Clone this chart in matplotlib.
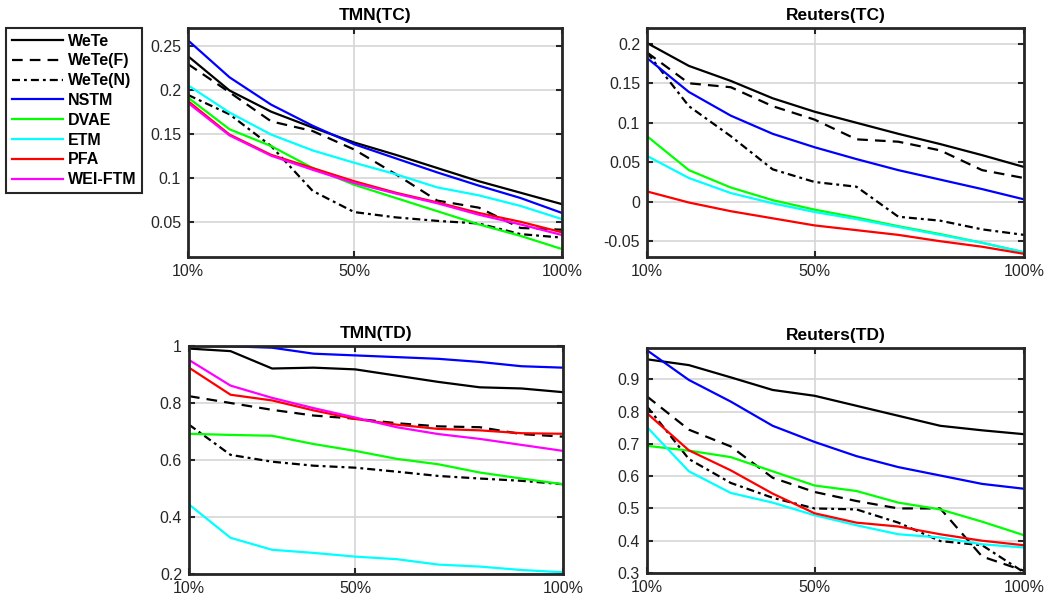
import numpy as np
import matplotlib.pyplot as plt

plt.rcParams['font.family'] = ['Liberation Sans', 'DejaVu Sans']

# data proportion (%)
x = [10, 20, 30, 40, 50, 60, 70, 80, 90, 100]

methods = ['WeTe', 'WeTe(F)', 'WeTe(N)', 'NSTM', 'DVAE', 'ETM', 'PFA', 'WEI-FTM']
colors = ['k', 'k', 'k', '#0000ff', '#00ff00', '#00ffff', '#ff0000', '#ff00ff']
styles = ['-', (0, (4.8, 3.2)), (0, (3.6, 1.8, 1.3, 1.8)), '-', '-', '-', '-', '-']

tmn_tc = {
    'WeTe':    [0.238, 0.199, 0.175, 0.157, 0.140, 0.126, 0.111, 0.096, 0.083, 0.070],
    'WeTe(F)': [0.229, 0.197, 0.164, 0.153, 0.132, 0.104, 0.074, 0.066, 0.043, 0.041],
    'WeTe(N)': [0.194, 0.172, 0.136, 0.085, 0.061, 0.055, 0.051, 0.048, 0.036, 0.032],
    'NSTM':    [0.256, 0.214, 0.183, 0.159, 0.138, 0.122, 0.106, 0.091, 0.077, 0.060],
    'DVAE':    [0.191, 0.155, 0.136, 0.111, 0.092, 0.077, 0.062, 0.047, 0.034, 0.019],
    'ETM':     [0.205, 0.174, 0.149, 0.131, 0.117, 0.104, 0.089, 0.080, 0.068, 0.053],
    'PFA':     [0.187, 0.149, 0.126, 0.111, 0.096, 0.083, 0.072, 0.060, 0.050, 0.038],
    'WEI-FTM': [0.185, 0.148, 0.125, 0.109, 0.094, 0.082, 0.071, 0.058, 0.047, 0.035],
}

reuters_tc = {
    'WeTe':    [0.201, 0.172, 0.153, 0.131, 0.114, 0.100, 0.086, 0.073, 0.059, 0.044],
    'WeTe(F)': [0.189, 0.150, 0.145, 0.121, 0.104, 0.079, 0.076, 0.065, 0.040, 0.030],
    'WeTe(N)': [0.189, 0.121, 0.083, 0.041, 0.025, 0.019, -0.019, -0.024, -0.035, -0.042],
    'NSTM':    [0.182, 0.139, 0.109, 0.086, 0.069, 0.054, 0.040, 0.028, 0.016, 0.003],
    'DVAE':    [0.083, 0.040, 0.018, 0.002, -0.010, -0.020, -0.031, -0.041, -0.052, -0.064],
    'ETM':     [0.058, 0.030, 0.011, -0.002, -0.013, -0.022, -0.032, -0.042, -0.052, -0.064],
    'PFA':     [0.013, -0.001, -0.012, -0.021, -0.030, -0.036, -0.042, -0.050, -0.057, -0.066],
}

tmn_td = {
    'WeTe':    [0.991, 0.982, 0.921, 0.924, 0.918, 0.896, 0.874, 0.855, 0.851, 0.838],
    'WeTe(F)': [0.824, 0.800, 0.776, 0.756, 0.745, 0.729, 0.718, 0.715, 0.691, 0.682],
    'WeTe(N)': [0.724, 0.618, 0.594, 0.580, 0.573, 0.559, 0.544, 0.535, 0.527, 0.515],
    'NSTM':    [1.000, 0.999, 0.994, 0.973, 0.967, 0.961, 0.955, 0.944, 0.929, 0.924],
    'DVAE':    [0.692, 0.688, 0.685, 0.656, 0.632, 0.604, 0.585, 0.556, 0.535, 0.515],
    'ETM':     [0.444, 0.327, 0.285, 0.274, 0.261, 0.252, 0.233, 0.226, 0.214, 0.206],
    'PFA':     [0.924, 0.829, 0.809, 0.774, 0.744, 0.724, 0.709, 0.704, 0.694, 0.692],
    'WEI-FTM': [0.951, 0.861, 0.818, 0.782, 0.749, 0.715, 0.691, 0.674, 0.653, 0.632],
}

reuters_td = {
    'WeTe':    [0.962, 0.944, 0.906, 0.867, 0.849, 0.818, 0.787, 0.756, 0.742, 0.730],
    'WeTe(F)': [0.847, 0.744, 0.692, 0.595, 0.551, 0.523, 0.500, 0.500, 0.351, 0.307],
    'WeTe(N)': [0.816, 0.653, 0.579, 0.533, 0.500, 0.497, 0.456, 0.399, 0.386, 0.302],
    'NSTM':    [0.990, 0.898, 0.831, 0.756, 0.706, 0.662, 0.628, 0.602, 0.576, 0.561],
    'DVAE':    [0.694, 0.679, 0.659, 0.615, 0.571, 0.554, 0.518, 0.497, 0.459, 0.417],
    'ETM':     [0.752, 0.615, 0.548, 0.518, 0.479, 0.448, 0.420, 0.410, 0.389, 0.379],
    'PFA':     [0.795, 0.680, 0.618, 0.546, 0.485, 0.456, 0.444, 0.420, 0.400, 0.386],
}

W, H = 1047, 598
fig = plt.figure(figsize=(W / 100, H / 100), dpi=100)

# panel: (title, data, ylim, yticks, ytick labels, pixel box left, top, right, bottom)
panels = [
    ('TMN(TC)', tmn_tc, (0.01, 0.27), [0.05, 0.1, 0.15, 0.2, 0.25],
     ['0.05', '0.1', '0.15', '0.2', '0.25'], (188, 28, 562, 257)),
    ('Reuters(TC)', reuters_tc, (-0.07, 0.22), [-0.05, 0, 0.05, 0.1, 0.15, 0.2],
     ['-0.05', '0', '0.05', '0.1', '0.15', '0.2'], (647, 28, 1024, 257)),
    ('TMN(TD)', tmn_td, (0.2, 1.0), [0.2, 0.4, 0.6, 0.8, 1.0],
     ['0.2', '0.4', '0.6', '0.8', '1'], (189, 346, 563, 574)),
    ('Reuters(TD)', reuters_td, (0.3, 0.997), [0.3, 0.4, 0.5, 0.6, 0.7, 0.8, 0.9],
     ['0.3', '0.4', '0.5', '0.6', '0.7', '0.8', '0.9'], (647, 348, 1024, 573)),
]

handles = None
for title, data, ylim, yt, ytl, (l, t, r, b) in panels:
    ax = fig.add_axes([l / W, 1 - b / H, (r - l) / W, (b - t) / H])
    hs = []
    for m, c, s in zip(methods, colors, styles):
        if m in data:
            h, = ax.plot(x, data[m], color=c, linestyle=s, linewidth=1.6, label=m)
            hs.append(h)
    if handles is None:
        handles = hs
    ax.set_xlim(10, 100)
    ax.set_ylim(*ylim)
    ax.set_xticks([10, 50, 100])
    ax.set_xticklabels(['10%', '50%', '100%'])
    ax.set_yticks(yt)
    ax.set_yticklabels(ytl)
    ax.grid(True, color='#d6d6d6', linewidth=1.2)
    ax.set_axisbelow(True)
    ax.tick_params(direction='in', top=True, right=True, length=4, width=1.5,
                   labelsize=11.5, colors='#262626', pad=5)
    for sp in ax.spines.values():
        sp.set_linewidth(2)
        sp.set_color('#262626')
    ax.set_title(title, fontsize=12.5, fontweight='bold', pad=6)

fig.legend(handles=handles, labels=methods, loc='upper left',
           bbox_to_anchor=(6 / W, 1 - 28 / H), borderaxespad=0,
           prop={'weight': 'bold', 'size': 11.5}, handlelength=3.2,
           handletextpad=0.3, labelspacing=0.3, borderpad=0.35,
           fancybox=False, edgecolor='#262626', framealpha=1)
fig.legends[0].get_frame().set_linewidth(1.5)

plt.savefig('out.png', dpi=100)
